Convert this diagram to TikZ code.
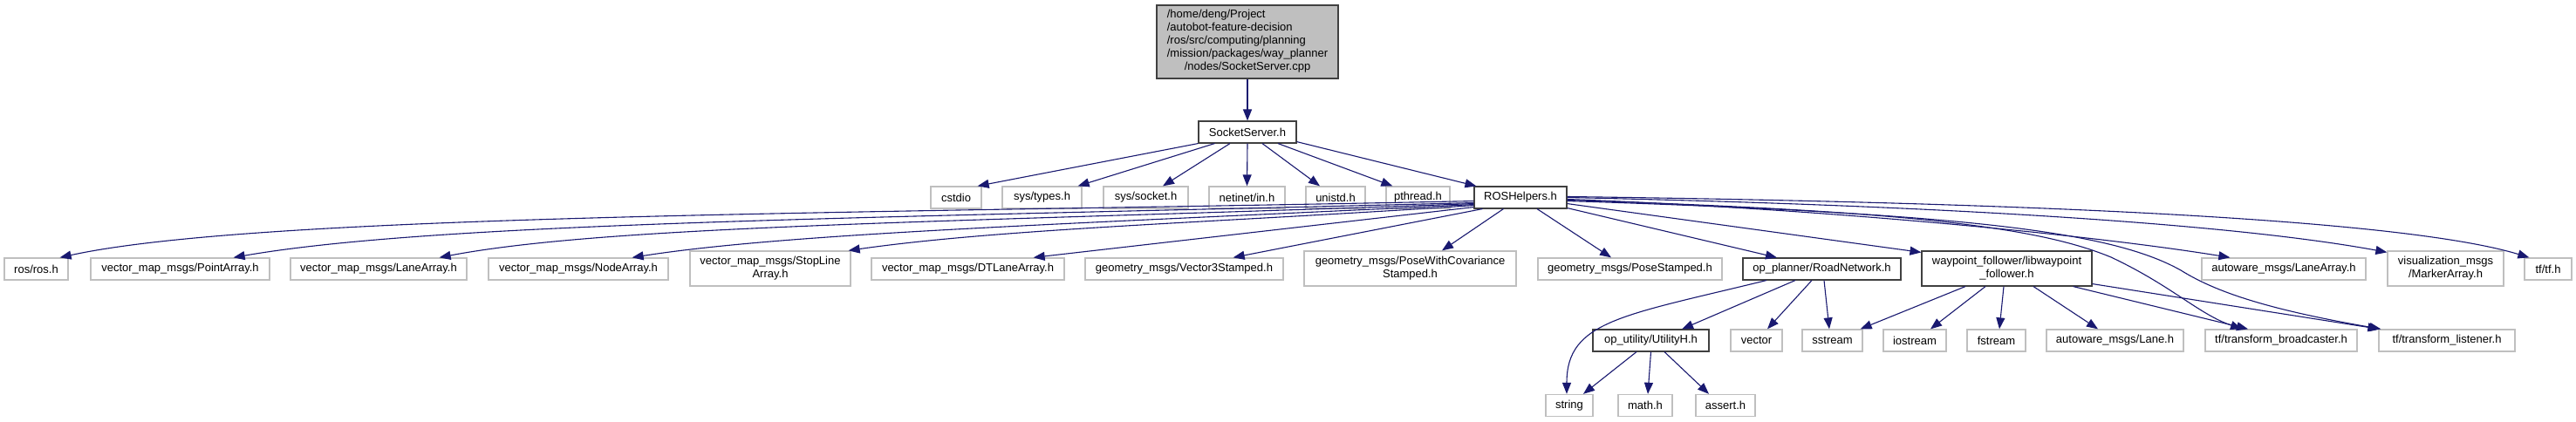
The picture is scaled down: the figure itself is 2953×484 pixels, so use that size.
\documentclass[tikz,border=0pt]{standalone}
\usepackage{fontspec}
\setmainfont{Liberation Sans}
\usetikzlibrary{arrows.meta}
\definecolor{edgeblue}{HTML}{191970}
\definecolor{grayborder}{HTML}{BFBFBF}
\definecolor{rootfill}{HTML}{BFBFBF}
\definecolor{darkborder}{HTML}{404040}
\tikzset{
  ext/.style={draw=grayborder, line width=1.3pt, fill=white, inner xsep=3pt, inner ysep=1pt,
    minimum height=25pt, font=\fontsize{13}{15}\selectfont, align=center},
  dbl/.style={minimum height=40pt},
  int/.style={ext, draw=darkborder, line width=1.1pt},
  rootbox/.style={int, fill=rootfill, minimum height=84pt, minimum width=208pt},
  edge/.style={draw=edgeblue, line width=1.1pt, -{Triangle[length=13pt,width=10pt]}},
}
\begin{document}
\begin{tikzpicture}[x=1pt,y=-1pt]
\fill[white] (0,0) rectangle (2953,484);
\useasboundingbox (0,0) rectangle (2953,484);
% row 0/1
\node[rootbox] (root) at (1430,48) {\begin{tabular}{@{}l@{}}/home/deng/Project\\/autobot-feature-decision\\/ros/src/computing/planning\\/mission/packages/way\_planner\\\multicolumn{1}{@{}c@{}}{/nodes/SocketServer.cpp}\end{tabular}};
\node[int, minimum width=112pt] (ss) at (1430,151.5) {SocketServer.h};
% row 2
\node[ext, minimum width=58pt] (cstdio) at (1096,226.5) {cstdio};
\node[ext, minimum width=91pt] (systypes) at (1194.5,226.5) {sys/types.h};
\node[ext, minimum width=97pt] (syssocket) at (1313.5,226.5) {sys/socket.h};
\node[ext, minimum width=87pt] (netinet) at (1429.5,226.5) {netinet/in.h};
\node[ext, minimum width=68pt] (unistd) at (1531,226.5) {unistd.h};
\node[ext, minimum width=73pt] (pthread) at (1625.5,226.5) {pthread.h};
\node[int, minimum width=106pt] (rh) at (1743,226.5) {ROSHelpers.h};
% row 3
\node[ext, minimum width=73pt] (rosros) at (41.5,308.5) {ros/ros.h};
\node[ext, minimum width=205pt] (point) at (206.5,308.5) {vector\_map\_msgs/PointArray.h};
\node[ext, minimum width=202pt] (lanearr) at (434,308.5) {vector\_map\_msgs/LaneArray.h};
\node[ext, minimum width=206pt] (nodearr) at (663,308.5) {vector\_map\_msgs/NodeArray.h};
\node[ext, dbl, minimum width=184pt] (stopline) at (883,308) {vector\_map\_msgs/StopLine\\Array.h};
\node[ext, minimum width=221pt] (dtlane) at (1109.5,308.5) {vector\_map\_msgs/DTLaneArray.h};
\node[ext, minimum width=227pt] (vector3) at (1357.5,308.5) {geometry\_msgs/Vector3Stamped.h};
\node[ext, dbl, minimum width=243pt] (posecov) at (1616.5,308) {geometry\_msgs/PoseWithCovariance\\Stamped.h};
\node[ext, minimum width=211pt] (posest) at (1868.5,308.5) {geometry\_msgs/PoseStamped.h};
\node[int, minimum width=181pt] (roadnet) at (2088.5,308.5) {op\_planner/RoadNetwork.h};
\node[int, dbl, minimum width=195pt] (waypoint) at (2300.5,308) {waypoint\_follower/libwaypoint\\\_follower.h};
\node[ext, minimum width=188pt] (awlanearr) at (2618,308.5) {autoware\_msgs/LaneArray.h};
\node[ext, dbl, minimum width=133pt] (vis) at (2803.5,308) {visualization\_msgs\\/MarkerArray.h};
\node[ext, minimum width=54pt] (tftf) at (2921,308.5) {tf/tf.h};
% row 4
\node[int, minimum width=133pt] (utility) at (1892.5,390.5) {op\_utility/UtilityH.h};
\node[ext, minimum width=59pt] (vector) at (2013.5,390.5) {vector};
\node[ext, minimum width=69pt] (sstream) at (2100.5,390.5) {sstream};
\node[ext, minimum width=72pt] (iostream) at (2195,390.5) {iostream};
\node[ext, minimum width=67pt] (fstream) at (2288.5,390.5) {fstream};
\node[ext, minimum width=157pt] (lane) at (2424.5,390.5) {autoware\_msgs/Lane.h};
\node[ext, minimum width=174pt] (broadcaster) at (2615,390.5) {tf/transform\_broadcaster.h};
\node[ext, minimum width=156pt] (listener) at (2805,390.5) {tf/transform\_listener.h};
% row 5
\node[ext, minimum width=54pt] (string) at (1799,465) {string};
\node[ext, minimum width=62pt] (math) at (1886,465) {math.h};
\node[ext, minimum width=68pt] (assert) at (1978,465) {assert.h};

% edges
\draw[edge] (root.south) -- (ss.north);
\draw[edge] (ss.south west) -- ([xshift=-5]cstdio.north east);
\draw[edge] ([xshift=19]ss.south west) -- ([xshift=-5]systypes.north east);
\draw[edge] ([xshift=-20]ss.south) -- ([xshift=19.5]syssocket.north);
\draw[edge] (ss.south) -- (netinet.north);
\draw[edge] ([xshift=17]ss.south) -- ([xshift=-18]unistd.north);
\draw[edge] ([xshift=35]ss.south) -- ([xshift=8]pthread.north west);
\draw[edge] ([yshift=2]ss.south east) -- ([xshift=3]rh.north west);

% ROSHelpers left
\draw[edge] ([yshift=9]rh.south west) .. controls (1000,245) and (300,245) .. ([xshift=-10]rosros.north east);
\draw[edge] ([yshift=7]rh.south west) .. controls (1000,250) and (500,255) .. ([xshift=-42]point.north east);
\draw[edge] ([yshift=6]rh.south west) .. controls (1100,255) and (700,258) .. ([xshift=-32]lanearr.north east);
\draw[edge] ([yshift=5]rh.south west) .. controls (1200,258) and (900,268) .. ([xshift=-42]nodearr.north east);
\draw[edge] ([yshift=4]rh.south west) .. controls (1400,255) and (1150,262) .. ([xshift=-3]stopline.north east);
\draw[edge] ([yshift=2]rh.south west) -- ([xshift=-36]dtlane.north east);
\draw[edge] ([xshift=10]rh.south west) -- ([xshift=-58]vector3.north east);
\draw[edge] ([xshift=34]rh.south west) -- ([xshift=36.5]posecov.north);
\draw[edge] ([xshift=19]rh.south) -- ([xshift=-21.5]posest.north);
\draw[edge] ([yshift=1]rh.south east) -- ([xshift=-51.5]roadnet.north);
\draw[edge] ([yshift=6]rh.south east) -- ([yshift=-2]waypoint.north west);
% ROSHelpers right
\draw[edge] ([yshift=1]rh.east) .. controls (2300,232) and (2750,250) .. ([xshift=6]tftf.north west);
\draw[edge] (rh.east) .. controls (2200,235) and (2550,255) .. ([yshift=-2]vis.north west);
\draw[edge] ([yshift=-2]rh.east) .. controls (2100,240) and (2400,270) .. ([xshift=33]awlanearr.north west);
\draw[edge] ([yshift=-3]rh.east) .. controls (2200,242) and (2340,262) .. (2420,295) .. controls (2490,328) and (2520,360) .. ([xshift=-45]broadcaster.north);
\draw[edge] ([yshift=-4]rh.east) .. controls (2250,245) and (2420,265) .. (2500,310) .. controls (2540,335) and (2600,355) .. ([xshift=3]listener.north west);

% RoadNetwork
\draw[edge] ([xshift=-63.5]roadnet.south) .. controls (1860,362) and (1796,368) .. ([xshift=-3]string.north);
\draw[edge] ([xshift=-30.5]roadnet.south) -- ([xshift=35.5]utility.north);
\draw[edge] ([xshift=-11.5]roadnet.south) -- ([xshift=12.5]vector.north);
\draw[edge] ([xshift=2.5]roadnet.south) -- ([xshift=-3.5]sstream.north);

% waypoint follower
\draw[edge] ([xshift=-47.5]waypoint.south) -- ([xshift=-3]sstream.north east);
\draw[edge] ([xshift=-24.5]waypoint.south) -- ([xshift=18]iostream.north);
\draw[edge] ([xshift=-3.5]waypoint.south) -- ([xshift=3.5]fstream.north);
\draw[edge] ([xshift=30.5]waypoint.south) -- ([xshift=-19.5]lane.north);
\draw[edge] ([xshift=-22]waypoint.south east) -- ([xshift=-38]broadcaster.north);
\draw[edge] ([yshift=3]waypoint.south east) -- ([xshift=1]listener.north west);

% UtilityH
\draw[edge] ([xshift=-16.5]utility.south) -- ([xshift=16]string.north);
\draw[edge] (utility.south) -- ([xshift=3]math.north);
\draw[edge] ([xshift=15.5]utility.south) -- ([xshift=-19]assert.north);
\end{tikzpicture}
\end{document}
